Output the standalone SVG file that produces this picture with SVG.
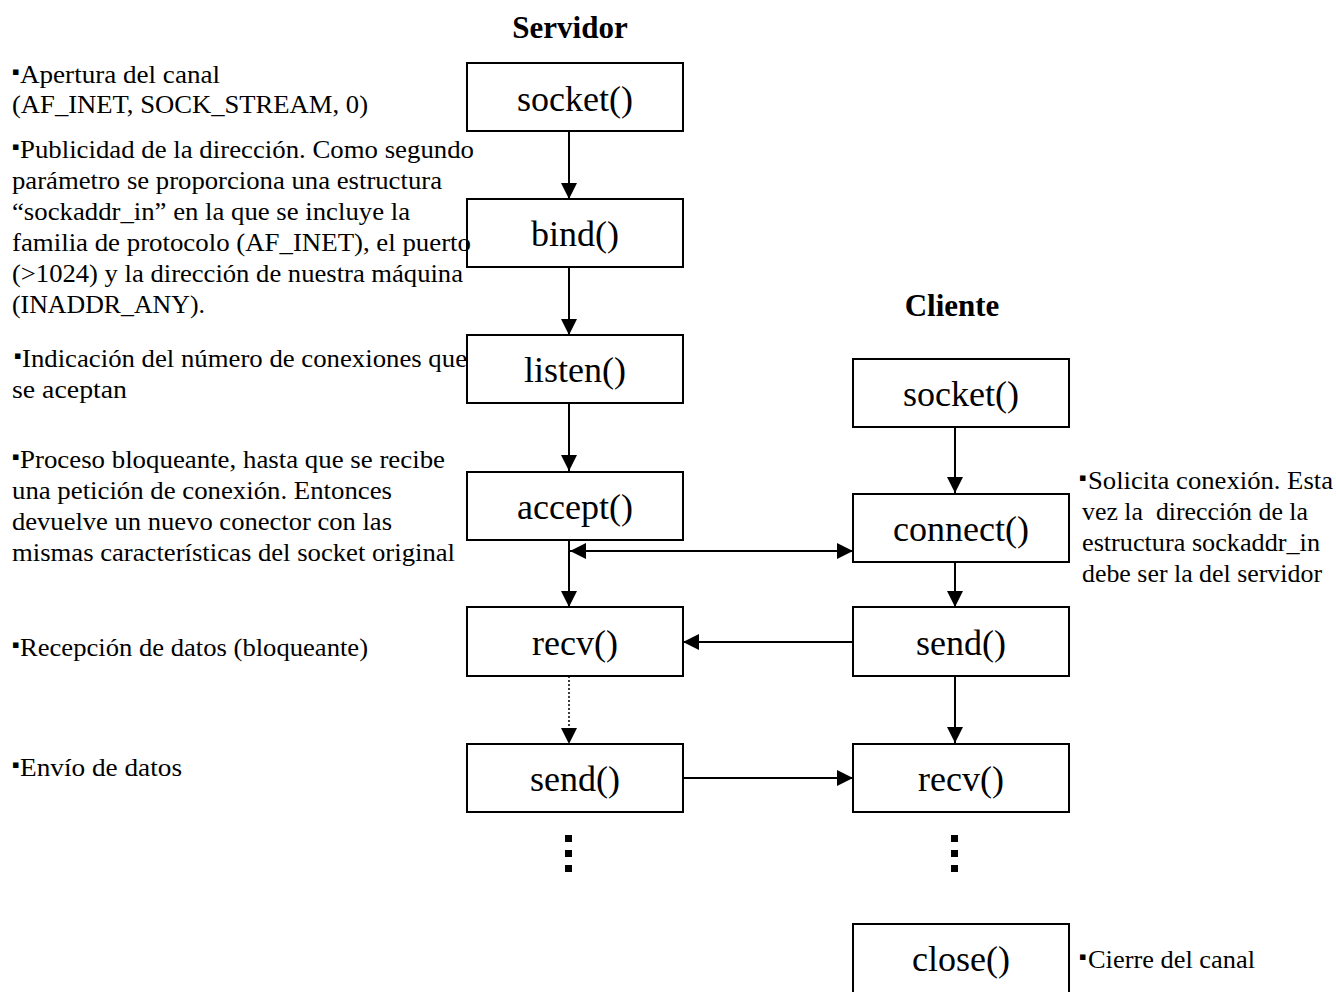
<svg xmlns="http://www.w3.org/2000/svg" width="1336" height="992" viewBox="0 0 1336 992">
<style>
.box{fill:#fff;stroke:#000;stroke-width:2}
.lbl{font-family:"Liberation Serif",serif;font-size:36px;text-anchor:middle;fill:#000}
.ttl{font-family:"Liberation Serif",serif;font-size:31px;font-weight:bold;text-anchor:middle;fill:#000}
.txt{font-family:"Liberation Serif",serif;font-size:26px;fill:#000;white-space:pre}
.bul{font-family:"DejaVu Sans",sans-serif;font-size:11px;fill:#000}
.ln{fill:none;stroke:#000;stroke-width:2}
.dot{fill:none;stroke:#000;stroke-width:1.5;stroke-dasharray:2 2}
</style>
<defs>
<marker id="ah" viewBox="0 0 16 18" refX="16" refY="9" markerWidth="16" markerHeight="18" markerUnits="userSpaceOnUse" orient="auto-start-reverse">
<path d="M0,1 L16,9 L0,17 z" fill="#000"/>
</marker>
</defs>

<text class="ttl" x="570" y="38">Servidor</text>
<text class="ttl" x="952" y="316">Cliente</text>

<g id="connectors">
<line class="ln" x1="569" y1="131" x2="569" y2="199" marker-end="url(#ah)"/>
<line class="ln" x1="569" y1="267" x2="569" y2="335" marker-end="url(#ah)"/>
<line class="ln" x1="569" y1="403" x2="569" y2="471" marker-end="url(#ah)"/>
<line class="ln" x1="569" y1="540" x2="569" y2="607" marker-end="url(#ah)"/>
<line class="ln" x1="570" y1="551" x2="853" y2="551" marker-start="url(#ah)" marker-end="url(#ah)"/>
<line class="ln" x1="853" y1="642" x2="683" y2="642" marker-end="url(#ah)"/>
<line class="dot" x1="569" y1="676" x2="569" y2="744" marker-end="url(#ah)"/>
<line class="ln" x1="683" y1="778" x2="853" y2="778" marker-end="url(#ah)"/>
<line class="ln" x1="955" y1="427" x2="955" y2="493" marker-end="url(#ah)"/>
<line class="ln" x1="955" y1="562" x2="955" y2="607" marker-end="url(#ah)"/>
<line class="ln" x1="955" y1="676" x2="955" y2="743" marker-end="url(#ah)"/>
</g>

<g id="s_socket"><rect class="box" x="467" y="63" width="216" height="68"/><text class="lbl" x="575" y="111">socket()</text></g>
<g id="s_bind"><rect class="box" x="467" y="199" width="216" height="68"/><text class="lbl" x="575" y="246">bind()</text></g>
<g id="s_listen"><rect class="box" x="467" y="335" width="216" height="68"/><text class="lbl" x="575" y="382">listen()</text></g>
<g id="s_accept"><rect class="box" x="467" y="472" width="216" height="68"/><text class="lbl" x="575" y="519">accept()</text></g>
<g id="s_recv"><rect class="box" x="467" y="607" width="216" height="69"/><text class="lbl" x="575" y="655">recv()</text></g>
<g id="s_send"><rect class="box" x="467" y="744" width="216" height="68"/><text class="lbl" x="575" y="791">send()</text></g>
<g id="s_dots"><rect x="565" y="835" width="7" height="7"/><rect x="565" y="850" width="7" height="7"/><rect x="565" y="865" width="7" height="7"/></g>

<g id="c_socket"><rect class="box" x="853" y="359" width="216" height="68"/><text class="lbl" x="961" y="406">socket()</text></g>
<g id="c_connect"><rect class="box" x="853" y="494" width="216" height="68"/><text class="lbl" x="961" y="541">connect()</text></g>
<g id="c_send"><rect class="box" x="853" y="607" width="216" height="69"/><text class="lbl" x="961" y="655">send()</text></g>
<g id="c_recv"><rect class="box" x="853" y="744" width="216" height="68"/><text class="lbl" x="961" y="791">recv()</text></g>
<g id="c_dots"><rect x="951" y="835" width="7" height="7"/><rect x="951" y="850" width="7" height="7"/><rect x="951" y="865" width="7" height="7"/></g>
<g id="c_close"><rect class="box" x="853" y="924" width="216" height="80"/><text class="lbl" x="961" y="971">close()</text></g>

<g id="notes">
<text class="bul" x="12" y="75">▪</text>
<text class="txt" x="20" y="83" textLength="200" lengthAdjust="spacingAndGlyphs">Apertura del canal</text>
<text class="txt" x="12" y="113" textLength="356" lengthAdjust="spacingAndGlyphs">(AF_INET, SOCK_STREAM, 0)</text>

<text class="bul" x="12" y="150">▪</text>
<text class="txt" x="20" y="158" textLength="454" lengthAdjust="spacingAndGlyphs">Publicidad de la dirección. Como segundo</text>
<text class="txt" x="12" y="189" textLength="430" lengthAdjust="spacingAndGlyphs">parámetro se proporciona una estructura</text>
<text class="txt" x="12" y="220" textLength="398" lengthAdjust="spacingAndGlyphs">“sockaddr_in” en la que se incluye la</text>
<text class="txt" x="12" y="251" textLength="459" lengthAdjust="spacingAndGlyphs">familia de protocolo (AF_INET), el puerto</text>
<text class="txt" x="12" y="282" textLength="451" lengthAdjust="spacingAndGlyphs">(&gt;1024) y la dirección de nuestra máquina</text>
<text class="txt" x="12" y="313" textLength="193" lengthAdjust="spacingAndGlyphs">(INADDR_ANY).</text>

<text class="bul" x="14" y="359">▪</text>
<text class="txt" x="22" y="367" textLength="445" lengthAdjust="spacingAndGlyphs">Indicación del número de conexiones que</text>
<text class="txt" x="12" y="398" textLength="115" lengthAdjust="spacingAndGlyphs">se aceptan</text>

<text class="bul" x="12" y="460">▪</text>
<text class="txt" x="20" y="468" textLength="425" lengthAdjust="spacingAndGlyphs">Proceso bloqueante, hasta que se recibe</text>
<text class="txt" x="12" y="499" textLength="380" lengthAdjust="spacingAndGlyphs">una petición de conexión. Entonces</text>
<text class="txt" x="12" y="530" textLength="380" lengthAdjust="spacingAndGlyphs">devuelve un nuevo conector con las</text>
<text class="txt" x="12" y="561" textLength="443" lengthAdjust="spacingAndGlyphs">mismas características del socket original</text>

<text class="bul" x="12" y="648">▪</text>
<text class="txt" x="20" y="656" textLength="348" lengthAdjust="spacingAndGlyphs">Recepción de datos (bloqueante)</text>

<text class="bul" x="12" y="768">▪</text>
<text class="txt" x="20" y="776" textLength="162" lengthAdjust="spacingAndGlyphs">Envío de datos</text>

<text class="bul" x="1079" y="481">▪</text>
<text class="txt" x="1088" y="489" textLength="245" lengthAdjust="spacingAndGlyphs">Solicita conexión. Esta</text>
<text class="txt" x="1082" y="520" textLength="226" lengthAdjust="spacingAndGlyphs">vez la  dirección de la</text>
<text class="txt" x="1082" y="551" textLength="238" lengthAdjust="spacingAndGlyphs">estructura sockaddr_in</text>
<text class="txt" x="1082" y="582" textLength="240" lengthAdjust="spacingAndGlyphs">debe ser la del servidor</text>

<text class="bul" x="1079" y="960">▪</text>
<text class="txt" x="1088" y="968" textLength="167" lengthAdjust="spacingAndGlyphs">Cierre del canal</text>
</g>
</svg>
